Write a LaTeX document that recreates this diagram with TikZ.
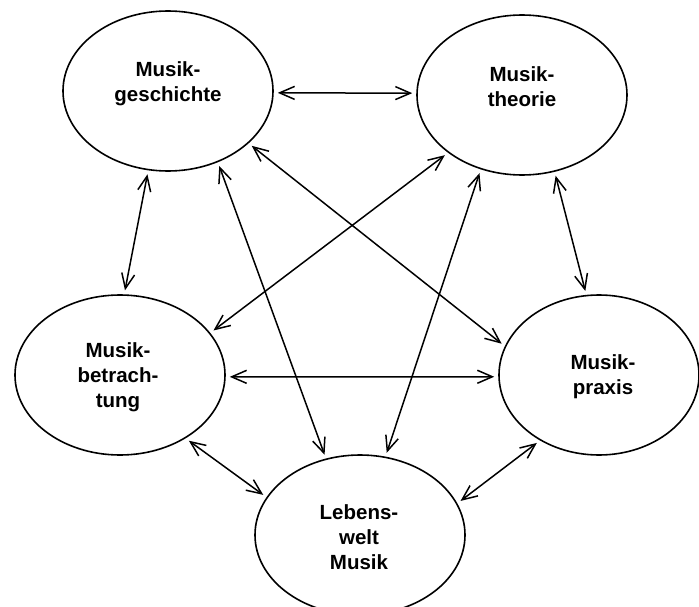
\documentclass[tikz,border=0pt]{standalone}
\usepackage{fontspec}
\setmainfont{Liberation Sans}
\usetikzlibrary{shapes.geometric,arrows.meta}

\tikzset{
  feld/.style={draw=black, line width=1.6pt, ellipse, minimum width=210pt, minimum height=160pt, inner sep=0pt},
  feldtext/.style={font=\fontsize{20.5}{25}\selectfont\bfseries, align=center, inner sep=0pt},
  bezug/.style={{Straight Barb[length=15pt,width=13pt]}-{Straight Barb[length=15pt,width=13pt]}, line width=1.5pt, shorten <=4pt, shorten >=4pt}
}

\begin{document}
\begin{tikzpicture}[x=1pt,y=-1pt]
    \useasboundingbox (0,0) rectangle (699,607);
    % die fuenf Felder
    \node[feld] (gesch) at (168,91) {};
    \node[feld] (theo)  at (522,95) {};
    \node[feld] (betr)  at (120,375) {};
    \node[feld, minimum width=200pt] (praxis) at (599,375) {};
    \node[feld] (leben) at (360,535) {};
    \node[feldtext] (geschtext)  at (168,84)  {Musik-\\geschichte};
    \node[feldtext] (theotext)   at (522,87)  {Musik-\\theorie};
    \node[feldtext] (betrtext)   at (118,377) {Musik-\\betrach-\\tung};
    \node[feldtext] (praxistext) at (603,377) {Musik-\\praxis};
    \node[feldtext] (lebentext)  at (359,537) {Lebens-\\welt\\Musik};
    % Beziehungen
    \draw[bezug] (gesch.-1)   -- (theo.179);
    \draw[bezug] (gesch.-104) -- (betr.87);
    \draw[bezug] (gesch.-55)  -- (leben.114);
    \draw[bezug] (gesch.-33)  -- (praxis.163.5);
    \draw[bezug] (theo.218.5) -- (betr.25.6);
    \draw[bezug] (theo.241)   -- (leben.72);
    \draw[bezug] (theo.-67)   -- (praxis.99);
    \draw[bezug] (betr.-1.5)  -- (praxis.181);
    \draw[bezug] (betr.-44.6) -- (leben.158.6);
    \draw[bezug] (praxis.228.5) -- (leben.18.9);
\end{tikzpicture}
\end{document}
